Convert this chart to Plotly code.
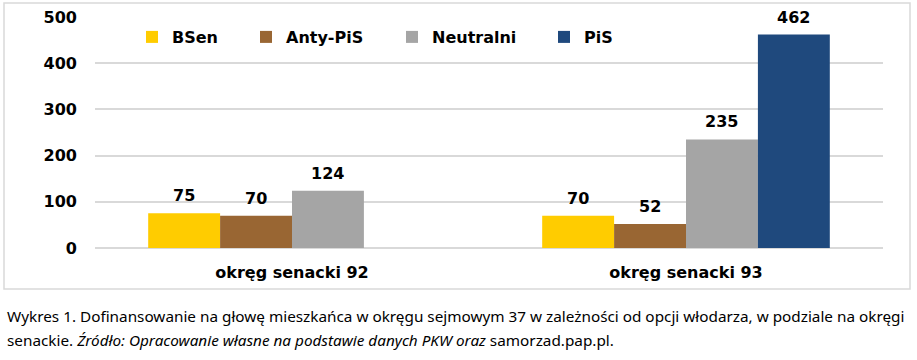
import plotly.graph_objects as go

categories = ["okręg senacki 92", "okręg senacki 93"]
series_names = ["BSen", "Anty-PiS", "Neutralni", "PiS"]
bsen = [75, 70]
anty_pis = [70, 52]
neutralni = [124, 235]
pis = [None, 462]
series_values = [bsen, anty_pis, neutralni, pis]
colors = ["#FFCC00", "#996633", "#A5A5A5", "#1F497D"]
y_ticks = [0, 100, 200, 300, 400, 500]

W, H = 917, 360
L, R, T, B = 95, 34, 17, 112
plot_w = W - L - R
plot_h = H - T - B
bargap = 0.27
n = len(series_names)
bar_px = plot_w / len(categories) * (1 - bargap) / n

font_bold = "DejaVu Sans"
fig = go.Figure()
legend_x_px = [132, 246, 392, 544]
for i, (name, vals, col) in enumerate(zip(series_names, series_values, colors)):
    lname = "legend" if i == 0 else f"legend{i+1}"
    fig.add_trace(go.Bar(
        x=categories, y=vals, name=name, marker_color=col,
        marker_line_width=0, legend=lname, hoverinfo="skip",
    ))

layout_legends = {}
for i in range(n):
    lname = "legend" if i == 0 else f"legend{i+1}"
    layout_legends[lname] = dict(
        x=(legend_x_px[i] - L) / plot_w, y=(H - B - 37) / plot_h,
        xanchor="left", yanchor="middle", orientation="h",
        bgcolor="rgba(0,0,0,0)",
        font=dict(family=font_bold, size=16, color="#000000", weight="bold"),
        itemclick=False, itemdoubleclick=False,
    )

annotations = []
for i, vals in enumerate(series_values):
    for j, v in enumerate(vals):
        if v is None:
            continue
        annotations.append(dict(
            x=categories[j], y=v, xref="x", yref="y",
            xshift=(i - (n - 1) / 2) * bar_px, yshift=6,
            text=f"<b>{v}</b>", showarrow=False, yanchor="bottom",
            font=dict(family=font_bold, size=16, color="#000000"),
        ))

caption1 = "Wykres 1. Dofinansowanie na głowę mieszkańca w okręgu sejmowym 37 w zależności od opcji włodarza, w podziale na okręgi"
caption2 = "senackie. <i>Źródło: Opracowanie własne na podstawie danych PKW oraz</i> samorzad.pap.pl."
for txt, ypx in [(caption1, 316), (caption2, 340)]:
    annotations.append(dict(
        x=(5 - L) / plot_w, y=(H - B - ypx) / plot_h, xref="paper", yref="paper",
        text=txt, showarrow=False, xanchor="left", yanchor="middle",
        font=dict(family="Noto Sans", size=15.3, color="#000000"),
    ))

shapes = [dict(
    type="rect", xref="paper", yref="paper",
    x0=(4 - L) / plot_w, x1=(910 - L) / plot_w,
    y0=(H - B - 289) / plot_h, y1=(H - B - 3) / plot_h,
    line=dict(color="#D9D9D9", width=1.5), fillcolor="rgba(0,0,0,0)", layer="below",
)]

fig.update_layout(
    width=W, height=H,
    margin=dict(l=L, r=R, t=T, b=B, autoexpand=False),
    paper_bgcolor="white", plot_bgcolor="white",
    barmode="group", bargap=bargap, bargroupgap=0,
    showlegend=True,
    annotations=annotations, shapes=shapes,
    **layout_legends,
)
fig.update_xaxes(
    showgrid=False, showline=False, zeroline=False, ticks="", automargin=False,
    tickfont=dict(family=font_bold, size=16, color="#000000", weight="bold"),
    ticklabelstandoff=13,
)
fig.update_yaxes(
    range=[0, 500], tickvals=y_ticks, showgrid=True, gridcolor="#D9D9D9", gridwidth=2,
    zeroline=True, zerolinecolor="#D9D9D9", zerolinewidth=2, showline=False, ticks="",
    automargin=False,
    tickfont=dict(family=font_bold, size=16, color="#000000", weight="bold"),
    ticklabelstandoff=17,
)
fig.write_html(
    "out.html",
    config={"displayModeBar": False},
    post_script="document.body.style.margin='0';document.body.style.overflow='hidden';",
)
